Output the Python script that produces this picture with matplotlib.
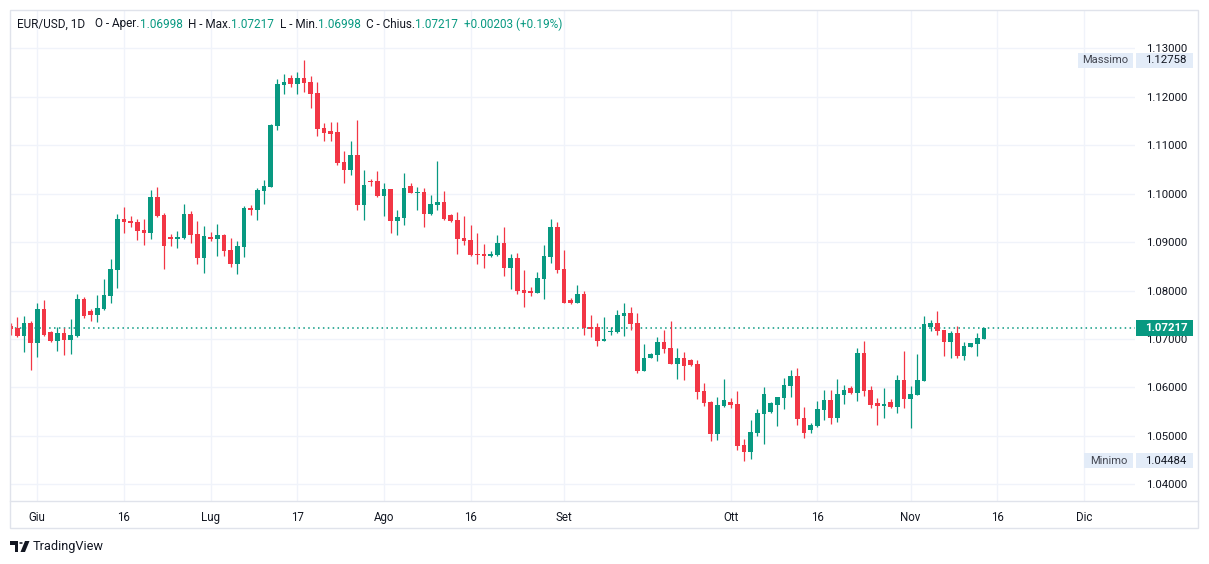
import matplotlib
matplotlib.use("Agg")
import numpy as np
import matplotlib.pyplot as plt
from matplotlib.patches import Rectangle, Polygon, Circle
from matplotlib.transforms import blended_transform_factory

plt.rcParams['font.family'] = ['Roboto', 'DejaVu Sans']

# EUR/USD daily candles (one row = 10 bars)
opens = [
    1.07268, 1.07227, 1.07069, 1.07330, 1.06924, 1.07619, 1.07138, 1.06966, 1.07124, 1.06986,
    1.07069, 1.07826, 1.07578, 1.07502, 1.07619, 1.07894, 1.08431, 1.09477, 1.09436, 1.09415,
    1.09250, 1.09195, 1.09931, 1.09559, 1.09105, 1.09071, 1.09085, 1.09580, 1.09167, 1.08679,
    1.09098, 1.09071, 1.09147, 1.08837, 1.08555, 1.08906, 1.09704, 1.09669, 1.10062, 1.10144,
    1.11403, 1.12249, 1.12387, 1.12270, 1.12387, 1.12304, 1.12077, 1.11355, 1.11293, 1.11272,
    1.10653, 1.10495, 1.10798, 1.09773, 1.10268, 1.10261, 1.09952, 1.10096, 1.09442, 1.09504,
    1.10158, 1.10013, 1.10034, 1.09587, 1.09773, 1.09828, 1.09559, 1.09456, 1.09085, 1.09043,
    1.08754, 1.08754, 1.08720, 1.08734, 1.08981, 1.08472, 1.08672, 1.08011, 1.07991, 1.07949,
    1.08238, 1.08692, 1.09312, 1.08445, 1.07805, 1.07743, 1.07929, 1.07248, 1.07248, 1.06959,
    1.07144, 1.07144, 1.07478, 1.07537, 1.07330, 1.06343, 1.06612, 1.06673, 1.06938, 1.06814,
    1.06488, 1.06608, 1.06567, 1.06484, 1.05927, 1.05700, 1.05046, 1.05617, 1.05700, 1.05658,
    1.04812, 1.04675, 1.05067, 1.05459, 1.05500, 1.05645, 1.05789, 1.06037, 1.06236, 1.05369,
    1.05129, 1.05211, 1.05541, 1.05741, 1.05376, 1.05851, 1.05989, 1.05892, 1.06711, 1.05947,
    1.05679, 1.05624, 1.05700, 1.05603, 1.06154, 1.05768, 1.05851, 1.06140, 1.07255, 1.07330,
    1.07186, 1.06945, 1.07124, 1.06656, 1.06842, 1.06904, 1.06998,
]
highs = [
    1.07337, 1.07461, 1.07475, 1.07372, 1.07743, 1.07805, 1.07165, 1.07248, 1.07220, 1.07413,
    1.07929, 1.07867, 1.07619, 1.07908, 1.08238, 1.08651, 1.09580, 1.09724, 1.09539, 1.09477,
    1.09477, 1.10075, 1.10144, 1.09594, 1.09167, 1.09229, 1.09786, 1.09642, 1.09436, 1.09332,
    1.09202, 1.09374, 1.09174, 1.09085, 1.09023, 1.09745, 1.09759, 1.10117, 1.10282, 1.11430,
    1.12360, 1.12470, 1.12449, 1.12511, 1.12758, 1.12428, 1.12304, 1.11458, 1.11479, 1.11479,
    1.10880, 1.11087, 1.11520, 1.10488, 1.10302, 1.10468, 1.10220, 1.10105, 1.09663, 1.10426,
    1.10220, 1.10137, 1.10110, 1.09979, 1.10674, 1.10055, 1.09587, 1.09621, 1.09539, 1.09353,
    1.09188, 1.08961, 1.08816, 1.09147, 1.09312, 1.08754, 1.08775, 1.08424, 1.08073, 1.08383,
    1.08940, 1.09477, 1.09415, 1.08837, 1.07846, 1.08115, 1.07991, 1.07495, 1.07330, 1.07454,
    1.07248, 1.07599, 1.07743, 1.07660, 1.07537, 1.06897, 1.06711, 1.07050, 1.07186, 1.07372,
    1.06814, 1.06732, 1.06587, 1.06567, 1.06092, 1.05720, 1.05803, 1.06174, 1.05782, 1.05927,
    1.04936, 1.05328, 1.05555, 1.06009, 1.05700, 1.05810, 1.06195, 1.06360, 1.06401, 1.05596,
    1.05266, 1.05730, 1.05947, 1.05947, 1.06174, 1.06051, 1.06030, 1.06814, 1.06959, 1.06030,
    1.05782, 1.05989, 1.05762, 1.06257, 1.06752, 1.06030, 1.06690, 1.07475, 1.07392, 1.07578,
    1.07190, 1.07165, 1.07268, 1.06938, 1.06920, 1.07124, 1.07217,
]
lows = [
    1.07083, 1.07048, 1.06739, 1.06360, 1.06635, 1.07062, 1.06938, 1.06759, 1.06670, 1.06697,
    1.07034, 1.07440, 1.07378, 1.07358, 1.07605, 1.07743, 1.08060, 1.09195, 1.09319, 1.09043,
    1.08947, 1.09071, 1.09525, 1.08452, 1.08926, 1.08878, 1.09057, 1.08988, 1.08555, 1.08369,
    1.09030, 1.08720, 1.08720, 1.08493, 1.08348, 1.08699, 1.09566, 1.09463, 1.09793, 1.10135,
    1.11314, 1.12064, 1.12208, 1.12064, 1.12098, 1.11775, 1.11197, 1.11094, 1.11094, 1.10598,
    1.10227, 1.10392, 1.09669, 1.09463, 1.10165, 1.09924, 1.09539, 1.09188, 1.09147, 1.09353,
    1.10005, 1.09663, 1.09312, 1.09559, 1.09663, 1.09449, 1.09415, 1.08754, 1.08940, 1.08720,
    1.08555, 1.08472, 1.08699, 1.08713, 1.08300, 1.08032, 1.07929, 1.07663, 1.07888, 1.07940,
    1.07826, 1.08569, 1.08362, 1.07740, 1.07722, 1.07740, 1.07083, 1.07041, 1.06856, 1.06955,
    1.07083, 1.07124, 1.07062, 1.07186, 1.06298, 1.06340, 1.06608, 1.06550, 1.06714, 1.06488,
    1.06178, 1.06161, 1.06450, 1.05768, 1.05624, 1.04902, 1.04922, 1.05596, 1.05583, 1.04716,
    1.04484, 1.04530, 1.05005, 1.04840, 1.05480, 1.05211, 1.05562, 1.05810, 1.05232, 1.04964,
    1.05067, 1.05180, 1.05335, 1.05252, 1.05294, 1.05665, 1.05872, 1.05727, 1.05830, 1.05583,
    1.05232, 1.05376, 1.05583, 1.05480, 1.05583, 1.05170, 1.05845, 1.06135, 1.07172, 1.07089,
    1.06656, 1.06615, 1.06615, 1.06573, 1.06840, 1.06656, 1.06998,
]
closes = [
    1.07213, 1.07069, 1.07330, 1.06924, 1.07619, 1.07083, 1.06959, 1.07124, 1.06986, 1.07083,
    1.07826, 1.07482, 1.07495, 1.07640, 1.07908, 1.08445, 1.09477, 1.09422, 1.09401, 1.09236,
    1.09195, 1.09931, 1.09546, 1.08926, 1.09071, 1.09105, 1.09580, 1.09147, 1.08679, 1.09126,
    1.09064, 1.09147, 1.08816, 1.08555, 1.08920, 1.09704, 1.09669, 1.10075, 1.10158, 1.11417,
    1.12263, 1.12304, 1.12270, 1.12387, 1.12291, 1.12064, 1.11341, 1.11259, 1.11238, 1.10640,
    1.10495, 1.10798, 1.09773, 1.10179, 1.10240, 1.09958, 1.10096, 1.09442, 1.09518, 1.10117,
    1.10013, 1.10027, 1.09587, 1.09786, 1.09828, 1.09477, 1.09436, 1.09064, 1.09030, 1.08734,
    1.08734, 1.08720, 1.08754, 1.08981, 1.08472, 1.08672, 1.07991, 1.07952, 1.07949, 1.08259,
    1.08713, 1.09312, 1.08424, 1.07743, 1.07743, 1.07929, 1.07227, 1.07213, 1.06959, 1.07000,
    1.07165, 1.07495, 1.07537, 1.07313, 1.06343, 1.06608, 1.06690, 1.06938, 1.06797, 1.06488,
    1.06608, 1.06450, 1.06470, 1.05913, 1.05686, 1.05046, 1.05638, 1.05741, 1.05645, 1.04798,
    1.04675, 1.05080, 1.05473, 1.05865, 1.05679, 1.05803, 1.06051, 1.06236, 1.05356, 1.05067,
    1.05225, 1.05555, 1.05741, 1.05376, 1.05865, 1.05947, 1.05892, 1.06711, 1.05934, 1.05645,
    1.05624, 1.05658, 1.05603, 1.06154, 1.05768, 1.05865, 1.06154, 1.07310, 1.07330, 1.07172,
    1.06945, 1.07124, 1.06656, 1.06856, 1.06917, 1.07021, 1.07217,
]

date_ticks = [4, 17, 30, 43, 56, 69, 83, 108, 121, 135, 148, 161]
date_labels = ['Giu', '16', 'Lug', '17', 'Ago', '16', 'Set', 'Ott', '16', 'Nov', '16', 'Dic']
price_ticks = [1.04, 1.05, 1.06, 1.07, 1.08, 1.09, 1.10, 1.11, 1.12, 1.13]

last_price = 1.07217
max_price = 1.12758
min_price = 1.04484

GREEN = '#089981'
RED = '#f23645'
TEXT = '#131722'
GRID = '#f0f3fa'
BORDER = '#e0e3eb'
TAG = '#e3ecf8'

W, H = 1209, 564
fig = plt.figure(figsize=(W / 100, H / 100), dpi=100)


def fx(px):
    return px / W


def fy(py):
    return 1 - py / H


ax = fig.add_axes([fx(10), fy(501), (1135 - 10) / W, (501 - 10) / H])

o = np.array(opens)
c = np.array(closes)
idx = np.arange(len(o))
cols = np.where(c >= o, GREEN, RED)
ax.vlines(idx, lows, highs, colors=cols, lw=0.9, zorder=3)
ax.bar(idx, np.maximum(np.abs(c - o), 0.00012), bottom=np.minimum(o, c),
       width=0.72, color=cols, lw=0, zorder=3)

ax.set_xlim(-0.09, 168.65)
ax.set_ylim(1.03656, 1.13790)
for s in ax.spines.values():
    s.set_visible(False)
ax.grid(True, color=GRID, lw=1, zorder=0)
ax.set_axisbelow(True)

ax.set_xticks(date_ticks)
ax.set_xticklabels(date_labels)
ax.yaxis.tick_right()
ax.set_yticks(price_ticks)
ax.set_yticklabels(['%.5f' % p for p in price_ticks])
ax.tick_params(axis='x', length=0, pad=7, labelsize=8.3, labelcolor=TEXT)
ax.tick_params(axis='y', length=0, pad=8, labelsize=8.2, labelcolor=TEXT)

# last price line
ax.axhline(last_price, color=GREEN, lw=1.1, ls=(0, (1, 2.2)), zorder=2)

# price tags on the scale
tr = blended_transform_factory(ax.transAxes, ax.transData)
ppx = (ax.get_ylim()[1] - ax.get_ylim()[0]) / 491.0


def tag(price, text, fc, tc, label=None, lab_left=None, bold=False, h=15):
    ax.add_patch(Rectangle((1.0006, price - h / 2 * ppx), 0.0512, h * ppx,
                           transform=tr, fc=fc, ec='none', clip_on=False, zorder=6))
    ax.text(1.0276, price, text, transform=tr, ha='center', va='center',
            fontsize=8.2, color=tc, fontweight='bold' if bold else 'normal',
            zorder=7, clip_on=False)
    if label:
        ax.add_patch(Rectangle((lab_left, price - h / 2 * ppx), 0.9982 - lab_left, h * ppx,
                               transform=tr, fc=fc, ec='none', clip_on=False, zorder=6))
        ax.text((lab_left + 0.9982) / 2, price, label, transform=tr, ha='center',
                va='center', fontsize=8, color='#434651', zorder=7, clip_on=False)


tag(max_price, '%.5f' % max_price, TAG, TEXT, 'Massimo', 0.9493)
tag(min_price, '%.5f' % min_price, TAG, TEXT, 'Minimo', 0.9547)
tag(last_price, '%.5f' % last_price, GREEN, 'white', bold=True, h=16)

# header legend, pieces chained left to right (gap after each piece in px)
header = [
    ('EUR/USD, 1D', TEXT, 10), ('O - Aper.', TEXT, 0), ('1.06998', GREEN, 5),
    ('H - Max.', TEXT, 0), ('1.07217', GREEN, 6), ('L - Min.', TEXT, 0),
    ('1.06998', GREEN, 5), ('C - Chius.', TEXT, 0), ('1.07217', GREEN, 6),
    ('+0.00203 (+0.19%)', GREEN, 0),
]
renderer = fig.canvas.get_renderer()
xp = 17
for txt, col, gap in header:
    t = fig.text(fx(xp), fy(24), txt, color=col, fontsize=8.5, va='center', ha='left')
    xp = t.get_window_extent(renderer).x1 + gap

# frame
fig.add_artist(Rectangle((fx(10), fy(528)), fx(1198) - fx(10), fy(10) - fy(528),
                         transform=fig.transFigure, fc='none', ec=BORDER, lw=1))
fig.add_artist(plt.Line2D([fx(10), fx(1198)], [fy(501), fy(501)],
                          transform=fig.transFigure, color=BORDER, lw=1))

# TradingView mark
logo = '#131722'
fig.add_artist(Polygon([(fx(10), fy(541)), (fx(18), fy(541)), (fx(18), fy(552)),
                        (fx(14.5), fy(552)), (fx(14.5), fy(545)), (fx(10), fy(545))],
                       closed=True, transform=fig.transFigure, fc=logo, ec='none'))
fig.add_artist(Circle((fx(21), fy(543)), 1.8 / W, transform=fig.transFigure, fc=logo, ec='none'))
fig.add_artist(Polygon([(fx(25), fy(541)), (fx(29.5), fy(541)), (fx(25), fy(552)),
                        (fx(20.5), fy(552))],
                       closed=True, transform=fig.transFigure, fc=logo, ec='none'))
fig.text(fx(33), fy(546.5), 'TradingView', fontsize=9.2, color=logo, va='center', ha='left')

fig.savefig('out.png', dpi=100)
